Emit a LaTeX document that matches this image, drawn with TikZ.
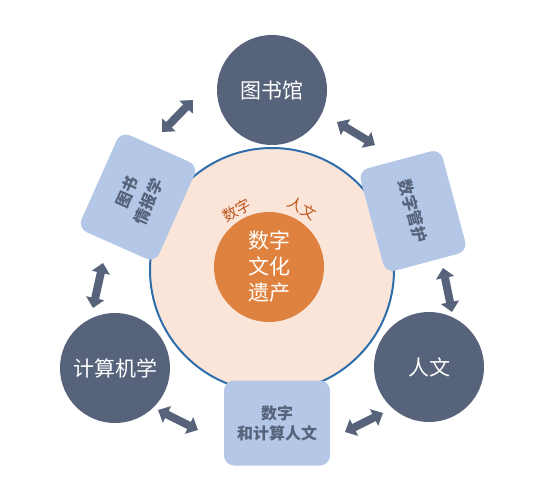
\documentclass[tikz,border=0pt]{standalone}
\usepackage{fontspec}
\setmainfont{Noto Sans CJK SC}
\usetikzlibrary{arrows.meta}
\definecolor{slate}{HTML}{56637A}
\definecolor{paleblue}{HTML}{B4C7E7}
\definecolor{peach}{HTML}{FAE5D8}
\definecolor{ringblue}{HTML}{2E6DAA}
\definecolor{heritage}{HTML}{E0823F}
\definecolor{rust}{HTML}{C0561F}
\tikzset{
  hub/.style={circle, fill=slate, text=white, minimum size=110pt, inner sep=0pt, font=\fontsize{21}{25}\selectfont},
  card/.style={fill=paleblue, text=slate, rounded corners=10pt, minimum width=106pt, minimum height=85pt, align=center, inner sep=2pt, font=\fontsize{16}{20}\selectfont\bfseries},
  arch/.style={text=rust, inner sep=0pt, font=\fontsize{15}{18}\selectfont},
  link/.style={{Triangle[length=10pt,width=18pt]}-{Triangle[length=10pt,width=18pt]}, slate, line width=8pt},
}

\begin{document}
\begin{tikzpicture}[x=1pt, y=-1pt]
    \useasboundingbox (0,0) rectangle (560,485);

    \node[circle, fill=peach, draw=ringblue, line width=2pt, minimum size=244pt] (ring) at (272,270) {};
    \node[circle, fill=heritage, text=white, minimum size=110pt, inner sep=0pt, align=center, font=\fontsize{21}{26}\selectfont] (core) at (269,267) {数字\\文化\\遗产};
    \node[arch, rotate=29] (digital) at (237,210) {数字};
    \node[arch, rotate=-29] (human) at (302,208) {人文};

    \node[hub] (library) at (272,90) {图书馆};
    \node[hub] (computing) at (115,368) {计算机学};
    \node[hub] (humanities) at (429,367) {人文};

    \node[card, rotate=66, font=\fontsize{16}{23}\selectfont\bfseries] (infosci) at (138,197) {图书\\情报学};
    \node[card, rotate=-75] (curation) at (413,211) {数字管护};
    \node[card] (dh) at (277,423) {数字\\和计算人文};

    % arrow ends along the cycle
    \coordinate (c1a) at (162,132); \coordinate (c1b) at (193,100);
    \coordinate (c2a) at (337,122); \coordinate (c2b) at (375,145);
    \coordinate (c3a) at (443,268); \coordinate (c3b) at (452,312);
    \coordinate (c4a) at (383,413); \coordinate (c4b) at (345,432);
    \coordinate (c5a) at (158,410); \coordinate (c5b) at (198,430);
    \coordinate (c6a) at (103,263); \coordinate (c6b) at (93,308);

    \foreach \i in {1,...,6}
      \draw[link] (c\i a) -- (c\i b);
  \end{tikzpicture}
\end{document}
